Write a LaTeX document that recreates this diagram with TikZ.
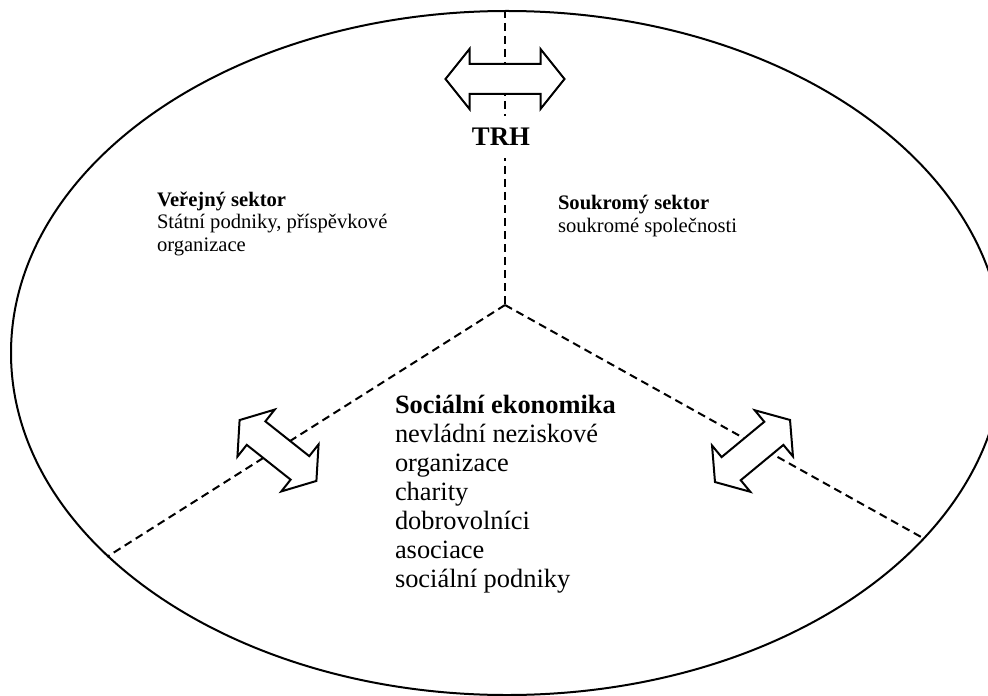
\documentclass[tikz,border=0pt]{standalone}
\usepackage{fontspec}
\setmainfont{Liberation Serif}
\usetikzlibrary{shapes.geometric}

\tikzset{
  pics/dblarrow/.style args={#1/#2}{code={
    \draw[arrow body] (-#1,0) -- (-#1+#2,-30) -- (-#1+#2,-15) -- (#1-#2,-15)
      -- (#1-#2,-30) -- (#1,0) -- (#1-#2,30) -- (#1-#2,15) -- (-#1+#2,15)
      -- (-#1+#2,30) -- cycle;
  }}
}

\begin{document}
\begin{tikzpicture}[x=0.5pt,y=-0.5pt,line width=1pt,
    sector line/.style={dash pattern=on 4pt off 2.5pt},
    arrow body/.style={draw,fill=white,line join=miter},
    small text/.style={font=\fontsize{10.3}{11.25}\selectfont,align=left,anchor=base west,inner sep=0pt},
    big text/.style={font=\fontsize{13.2}{14.5}\selectfont,align=left,anchor=base west,inner sep=0pt}]

  \useasboundingbox (0,0) rectangle (988,695);

  % market ellipse and the three sectors
  \node[ellipse,draw,inner sep=0pt,minimum width=496pt,minimum height=342pt] (market) at (507,353) {};
  \coordinate (mid) at (505,305);
  \draw[sector line] (mid |- market.north) -- (mid);
  \draw[sector line] (mid) -- (market.207.2);
  \draw[sector line] (mid) -- (market.-24.3);

  \node[font=\fontsize{13.4}{15}\selectfont\bfseries,fill=white,inner xsep=2pt,inner ysep=6pt] (trh) at (501,137) {TRH};

  % exchange arrows
  \pic (toparrow) at (505,79) {dblarrow=59.5/24};
  \pic[rotate=-38.4] (leftarrow) at (278,450.5) {dblarrow=49/21};
  \pic[rotate=39.6] (rightarrow) at (752.5,451) {dblarrow=48.7/21};

  % anchored at the baseline of the last line
  \node[small text] (public) at (156,251) {\textbf{Veřejný sektor}\\Státní podniky, příspěvkové\\organizace};
  \node[small text] (private) at (557,232) {\textbf{Soukromý sektor}\\soukromé společnosti};
  \node[big text] (social) at (394,587) {\textbf{Sociální ekonomika}\\nevládní neziskové\\organizace\\charity\\dobrovolníci\\asociace\\sociální podniky};

\end{tikzpicture}
\end{document}
